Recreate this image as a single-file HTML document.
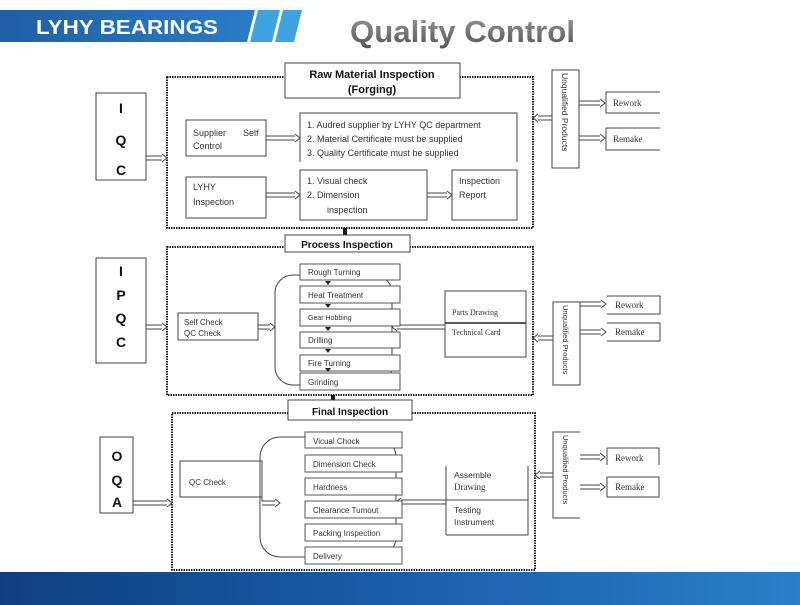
<!DOCTYPE html>
<html><head><meta charset="utf-8"><style>
html,body{margin:0;padding:0;background:#fff;width:800px;height:605px;overflow:hidden}
svg{display:block}
text{font-family:"Liberation Sans",Arial,sans-serif;fill:#333}
.s{font-size:9px}
.b{font-weight:bold;fill:#111}
.r{font-family:"Liberation Serif",serif;font-size:9px}
</style></head><body>
<svg width="800" height="605" viewBox="0 0 800 605" xmlns="http://www.w3.org/2000/svg">
<defs>
<linearGradient id="bl" x1="0" x2="1"><stop offset="0" stop-color="#1e5fa6"/><stop offset="1" stop-color="#2a7cc6"/></linearGradient>
<linearGradient id="ft" x1="0" x2="1" y1="0" y2="0"><stop offset="0" stop-color="#0f3f80"/><stop offset="0.5" stop-color="#1a5ea8"/><stop offset="1" stop-color="#2b7fc4"/></linearGradient>
<linearGradient id="qc" x1="0" x2="0" y1="0" y2="1"><stop offset="0" stop-color="#999"/><stop offset="1" stop-color="#555"/></linearGradient>
</defs>
<polygon points="0,10 255,10 247,42 0,42" fill="url(#bl)"/>
<polygon points="258,10 280,10 272,42 250,42" fill="#3ea3e0"/>
<polygon points="283,10 302,10 294,42 275,42" fill="#3ea3e0"/>
<text x="36" y="34" style="font-size:20px;font-weight:bold;fill:#fff" textLength="182" lengthAdjust="spacingAndGlyphs">LYHY BEARINGS</text>
<text x="350" y="42" style="font-size:31px;font-weight:bold;fill:url(#qc)" textLength="225" lengthAdjust="spacingAndGlyphs">Quality Control</text>
<rect x="0" y="572" width="800" height="33" fill="url(#ft)"/>

<g fill="none" stroke="#444" stroke-width="1">
<rect x="167" y="77" width="366" height="151" stroke-dasharray="1.5,1" stroke="#222" stroke-width="2"/>
<rect x="285" y="63" width="175" height="35" fill="#fff"/>
<rect x="96" y="93" width="50" height="87"/>
<rect x="186" y="120" width="80" height="36"/>
<path d="M300,162 V113 H517 V162"/>
<rect x="186" y="177" width="80" height="41"/>
<rect x="300" y="170" width="127" height="50"/>
<rect x="452" y="170" width="65" height="50"/>
<rect x="552" y="70" width="27" height="98"/>
<path d="M606,92 H660 M606,92 V113 H660 M606,128 H660 M606,128 V150 H660"/>
<path d="M146,156 H162 M146,160 H162 M162,154 L167,158 L162,162"/>
<path d="M266,136 H295 M266,140 H295 M295,134 L300,138 L295,142"/>
<path d="M266,193 H295 M266,197 H295 M295,191 L300,195 L295,199"/>
<path d="M427,193 H447 M427,197 H447 M447,191 L452,195 L447,199"/>
<path d="M552,116 H538 M552,120 H538 M538,114 L533,118 L538,122"/>
<path d="M579,101 H600 M579,105 H600 M600,99 L605,103 L600,107"/>
<path d="M579,136 H600 M579,140 H600 M600,134 L605,138 L600,142"/>
<rect x="343" y="228" width="4" height="9" fill="#111" stroke="none"/>

<rect x="167" y="247" width="366" height="148" stroke-dasharray="1.5,1" stroke="#222" stroke-width="2"/>
<rect x="285" y="235" width="125" height="17" fill="#fff"/>
<rect x="96" y="258" width="50" height="105"/>
<rect x="178" y="313" width="80" height="27"/>
<rect x="275" y="275" width="117" height="110" rx="18"/>
<rect x="445" y="291" width="81" height="66"/>
<path d="M445,323 H526" stroke="#222" stroke-width="1.5"/>
<rect x="553" y="302" width="27" height="83"/>
<path d="M607,296 H660 V314 H607 M607,323 H660 V341 H607"/>
<path d="M146,325 H162 M146,329 H162 M162,323 L167,327 L162,331"/>
<path d="M258,325 H270 M258,329 H270 M270,323 L275,327 L270,331"/>
<path d="M445,325 H397 M445,329 H397 M397,323 L392,327 L397,331"/>
<path d="M553,336 H538 M553,340 H538 M538,334 L533,338 L538,342"/>
<path d="M580,302 H601 M580,306 H601 M601,300 L606,304 L601,308"/>
<path d="M580,330 H601 M580,334 H601 M601,328 L606,332 L601,336"/>
<rect x="331" y="395" width="4" height="10" fill="#111" stroke="none"/>

<rect x="172" y="413" width="363" height="157" stroke-dasharray="1.5,1" stroke="#222" stroke-width="2"/>
<rect x="288" y="400" width="124" height="20" fill="#fff"/>
<rect x="100" y="437" width="33" height="76"/>
<rect x="180" y="461" width="82" height="36"/>
<rect x="260" y="437" width="136" height="120" rx="20"/>
<path d="M446,535 V466 M446,535 H528 V466 M446,500 H528"/>
<path d="M580,518 H553 V432 H580"/>
<path d="M607,448 H659 V465 M607,448 V465 M607,477 H659 V497 H607 V477"/>
<path d="M133,501 H167 M133,505 H167 M167,499 L172,503 L167,507"/>
<path d="M262,497 V501 H275 M262,505 H275 M275,499 L280,503 L275,507"/>
<path d="M446,500 H401 M446,504 H401 M401,498 L396,502 L401,506"/>
<path d="M553,473 H540 M553,477 H540 M540,471 L535,475 L540,479"/>
<path d="M580,455 H600 M580,459 H600 M600,453 L605,457 L600,461"/>
<path d="M580,485 H600 M580,489 H600 M600,483 L605,487 L600,491"/>
</g>
<g fill="#fff" stroke="#555">
<rect x="300" y="264" width="100" height="16"/>
<rect x="300" y="286" width="100" height="17"/>
<rect x="300" y="309" width="100" height="17"/>
<rect x="300" y="332" width="100" height="16"/>
<rect x="300" y="355" width="100" height="16"/>
<rect x="300" y="373" width="100" height="17"/>
<rect x="305" y="432" width="97" height="16"/>
<rect x="305" y="455" width="97" height="17"/>
<rect x="305" y="478" width="97" height="17"/>
<rect x="305" y="501" width="97" height="17"/>
<rect x="305" y="524" width="97" height="17"/>
<rect x="305" y="547" width="97" height="17"/>
</g>
<g fill="#222">
<polygon points="325,281 331,281 328,285"/>
<polygon points="325,304 331,304 328,308"/>
<polygon points="325,327 331,327 328,331"/>
<polygon points="325,349 331,349 328,353"/>
<polygon points="325,368 331,368 328,372"/>
</g>

<text x="372" y="78" text-anchor="middle" class="b" style="font-size:11px">Raw Material Inspection</text>
<text x="372" y="93" text-anchor="middle" class="b" style="font-size:11px">(Forging)</text>
<text x="121" y="113" text-anchor="middle" class="b" style="font-size:14px">I</text>
<text x="121" y="145" text-anchor="middle" class="b" style="font-size:14px">Q</text>
<text x="121" y="175" text-anchor="middle" class="b" style="font-size:14px">C</text>
<text x="193" y="136" class="s">Supplier</text><text x="243" y="136" class="s">Self</text>
<text x="193" y="149" class="s">Control</text>
<text x="307" y="128" class="s">1.   Audred supplier by LYHY QC department</text>
<text x="307" y="142" class="s">2.   Material Certificate must be supplied</text>
<text x="307" y="156" class="s">3.   Quality Certificate must be supplied</text>
<text x="193" y="190" class="s">LYHY</text>
<text x="193" y="205" class="s">Inspection</text>
<text x="307" y="184" class="s">1.   Visual check</text>
<text x="307" y="198" class="s">2.   Dimension</text>
<text x="327" y="213" class="s">inspection</text>
<text x="459" y="184" class="s">Inspection</text>
<text x="459" y="198" class="s">Report</text>
<text class="s" transform="translate(562,73) rotate(90)" style="font-size:8.5px">Unqualified Products</text>
<text x="613" y="106" class="r">Rework</text>
<text x="613" y="142" class="r">Remake</text>

<text x="347" y="248" text-anchor="middle" class="b" style="font-size:10px">Process Inspection</text>
<text x="121" y="276" text-anchor="middle" class="b" style="font-size:14px">I</text>
<text x="121" y="300" text-anchor="middle" class="b" style="font-size:14px">P</text>
<text x="121" y="323" text-anchor="middle" class="b" style="font-size:14px">Q</text>
<text x="121" y="347" text-anchor="middle" class="b" style="font-size:14px">C</text>
<text x="184" y="325" class="s" style="font-size:8px">Self Check</text>
<text x="184" y="336" class="s" style="font-size:8px">QC Check</text>
<text x="308" y="275" style="font-size:8px">Rough Turning</text>
<text x="308" y="298" style="font-size:8px">Heat Treatment</text>
<text x="308" y="320" style="font-size:7px">Gear Hobbing</text>
<text x="308" y="343" style="font-size:8px">Drilling</text>
<text x="308" y="366" style="font-size:8px">Fire Turning</text>
<text x="308" y="385" style="font-size:8px">Grinding</text>
<text x="452" y="315" class="r" style="font-size:8px">Parts Drawing</text>
<text x="452" y="335" class="r" style="font-size:8px">Technical Card</text>
<text class="s" transform="translate(563,305) rotate(90)" style="font-size:7.5px">Unqualified Products</text>
<text x="615" y="308" class="r">Rework</text>
<text x="615" y="335" class="r">Remake</text>

<text x="350" y="415" text-anchor="middle" class="b" style="font-size:10px">Final Inspection</text>
<text x="117" y="461" text-anchor="middle" class="b" style="font-size:14px">O</text>
<text x="117" y="485" text-anchor="middle" class="b" style="font-size:14px">Q</text>
<text x="117" y="507" text-anchor="middle" class="b" style="font-size:14px">A</text>
<text x="189" y="485" class="s" style="font-size:8px">QC Check</text>
<text x="313" y="444" style="font-size:8px">Vicual Chock</text>
<text x="313" y="467" style="font-size:8px">Dimension Check</text>
<text x="313" y="490" style="font-size:8px">Hardness</text>
<text x="313" y="513" style="font-size:8px">Clearance Tumout</text>
<text x="313" y="536" style="font-size:8px">Packing Inspection</text>
<text x="313" y="559" style="font-size:8px">Delivery</text>
<text x="454" y="478" class="s" style="font-size:8.5px">Assemble</text>
<text x="454" y="490" class="r">Drawing</text>
<text x="454" y="513" class="s" style="font-size:8.5px">Testing</text>
<text x="454" y="525" class="s" style="font-size:8.5px">Instrument</text>
<text class="s" transform="translate(563,435) rotate(90)" style="font-size:7.5px">Unqualified Products</text>
<text x="615" y="461" class="r">Rework</text>
<text x="615" y="490" class="r">Remake</text>
</svg>
</body></html>
